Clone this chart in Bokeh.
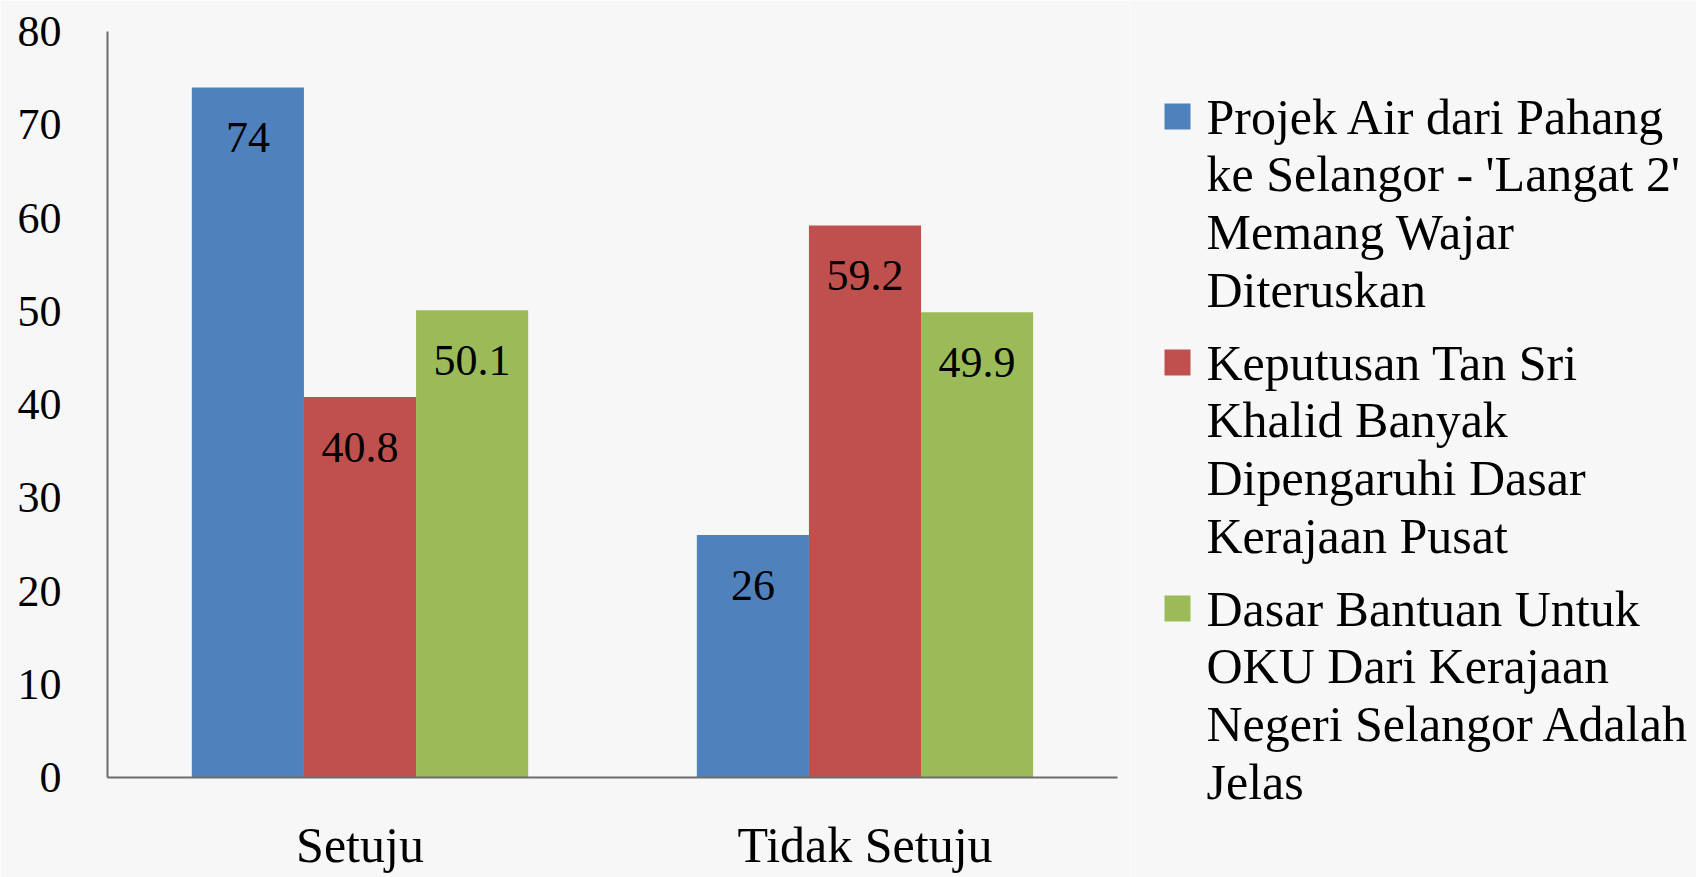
from bokeh.plotting import figure
from bokeh.models import ColumnDataSource, FactorRange, Range1d
from bokeh.transform import dodge
from bokeh.layouts import row, column
from bokeh.core.properties import value
from bokeh.embed import file_html
from bokeh.resources import INLINE

# ---- data ----
categories = ["Setuju", "Tidak Setuju"]
series_names = [
    "Projek Air dari Pahang ke Selangor - 'Langat 2' Memang Wajar Diteruskan",
    "Keputusan Tan Sri Khalid Banyak Dipengaruhi Dasar Kerajaan Pusat",
    "Dasar Bantuan Untuk OKU Dari Kerajaan Negeri Selangor Adalah Jelas",
]
legend_lines = [
    ["Projek Air dari Pahang", "ke Selangor - 'Langat 2'", "Memang Wajar", "Diteruskan"],
    ["Keputusan Tan Sri", "Khalid Banyak", "Dipengaruhi Dasar", "Kerajaan Pusat"],
    ["Dasar Bantuan Untuk", "OKU Dari Kerajaan", "Negeri Selangor Adalah", "Jelas"],
]
projek = [74, 26]
keputusan = [40.8, 59.2]
dasar = [50.1, 49.9]
y_ticks = [0, 10, 20, 30, 40, 50, 60, 70, 80]

colors = ["#4F81BD", "#C0504D", "#9BBB59"]
FONT = "Liberation Serif"
BG = "#f7f7f7"

series = [projek, keputusan, dasar]
bar_w = 0.222
offsets = [-bar_w, 0.0, bar_w]

TOP, FH, BOT = 31, 746, 100
H = TOP + FH + BOT

p = figure(
    x_range=FactorRange(*categories, range_padding=0),
    y_range=Range1d(0, 80),
    frame_width=1010, frame_height=FH,
    min_border_left=107, min_border_right=13, min_border_top=TOP, min_border_bottom=BOT,
    output_backend="svg", toolbar_location=None,
    background_fill_color=BG, border_fill_color=BG,
)
p.outline_line_color = None
p.xgrid.visible = False
p.ygrid.visible = False

for vals, off, col in zip(series, offsets, colors):
    src = ColumnDataSource(dict(cat=categories, val=vals,
                                lab=[f"{v:g}" for v in vals]))
    p.vbar(x=dodge("cat", off, range=p.x_range), top="val", width=bar_w,
           source=src, fill_color=col, line_color=None)
    p.text(x=dodge("cat", off, range=p.x_range), y="val", text="lab", source=src,
           text_align="center", text_baseline="middle", y_offset=50,
           text_font=value(FONT), text_font_size="44px", text_color="black")

p.yaxis.ticker = y_ticks
p.yaxis.major_tick_line_color = None
p.yaxis.minor_tick_line_color = None
p.yaxis.major_label_standoff = 40
p.yaxis.axis_line_color = "#6d6d6d"
p.yaxis.axis_line_width = 2
p.yaxis.major_label_text_font = FONT
p.yaxis.major_label_text_font_size = "44px"
p.yaxis.major_label_text_color = "black"

p.xaxis.major_tick_line_color = None
p.xaxis.minor_tick_line_color = None
p.xaxis.major_label_standoff = 33
p.xaxis.axis_line_color = "#6d6d6d"
p.xaxis.axis_line_width = 2
p.xaxis.major_label_text_font = FONT
p.xaxis.major_label_text_font_size = "50px"
p.xaxis.major_label_text_color = "black"

# ---- legend panel (its own full-height frame; y units = page pixels) ----
LW = 566
lf = figure(frame_width=LW, frame_height=H,
            x_range=Range1d(0, LW), y_range=Range1d(H, 0),
            x_axis_type=None, y_axis_type=None, min_border=0,
            output_backend="svg", toolbar_location=None,
            background_fill_color=BG, border_fill_color=BG)
lf.outline_line_color = None
lf.xgrid.visible = False
lf.ygrid.visible = False

first_y, entry_step, line_step = 116, 246, 57.8
sq_x, txt_x, sq = 47, 76, 26
sx, sy, scol = [], [], []
tx, ty, tt = [], [], []
for k, lines in enumerate(legend_lines):
    y0 = first_y + k * entry_step
    sx.append(sq_x); sy.append(y0); scol.append(colors[k])
    for i, ln in enumerate(lines):
        tx.append(txt_x); ty.append(y0 + i * line_step); tt.append(ln)
lf.rect(x=sx, y=sy, width=sq, height=sq, fill_color=scol, line_color=None)
lf.text(x=tx, y=ty, text=tt, text_align="left", text_baseline="middle",
        text_font=value(FONT), text_font_size="50px", text_color="black")

layout = row(p, column(lf))
open("out.html", "w").write(file_html(layout, INLINE))
